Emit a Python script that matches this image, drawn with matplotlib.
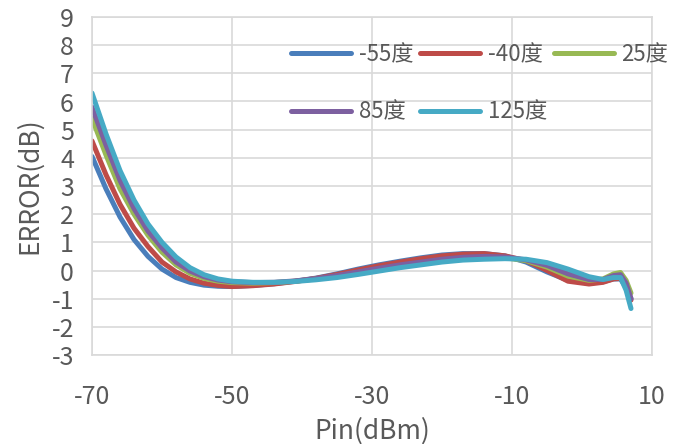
import matplotlib
matplotlib.use('Agg')
import matplotlib.pyplot as plt

plt.rcParams['font.family'] = ['Noto Sans CJK SC', 'DejaVu Sans']
plt.rcParams['axes.unicode_minus'] = False

pin = [-70, -68, -66, -64, -62, -60, -58, -56, -54, -52, -50, -47, -44, -41, -38, -35,
       -32, -29, -26, -23, -20, -17, -14, -11, -8, -5, -2, 1, 3, 4.5, 5.5, 6.3, 7]

err_m55 = [4.05, 2.9, 1.9, 1.1, 0.5, 0.05, -0.25, -0.42, -0.52, -0.56, -0.57, -0.53, -0.47,
           -0.38, -0.27, -0.12, 0.05, 0.2, 0.33, 0.45, 0.55, 0.6, 0.6, 0.52, 0.3, -0.05,
           -0.35, -0.45, -0.4, -0.3, -0.3, -0.6, -1.0]
err_m40 = [4.6, 3.4, 2.35, 1.5, 0.85, 0.3, -0.05, -0.3, -0.45, -0.53, -0.57, -0.54, -0.48,
           -0.39, -0.28, -0.14, 0.02, 0.17, 0.3, 0.42, 0.52, 0.58, 0.6, 0.52, 0.35, 0.0,
           -0.38, -0.48, -0.42, -0.3, -0.28, -0.55, -1.05]
err_25 = [5.4, 4.1, 2.9, 2.0, 1.25, 0.65, 0.2, -0.1, -0.28, -0.38, -0.43, -0.45, -0.43,
          -0.38, -0.3, -0.2, -0.07, 0.05, 0.17, 0.27, 0.35, 0.42, 0.45, 0.45, 0.35, 0.12,
          -0.2, -0.35, -0.3, -0.12, -0.07, -0.35, -0.8]
err_85 = [5.8, 4.45, 3.2, 2.2, 1.4, 0.8, 0.3, -0.02, -0.22, -0.34, -0.4, -0.43, -0.42,
          -0.37, -0.29, -0.18, -0.05, 0.08, 0.2, 0.3, 0.4, 0.47, 0.5, 0.48, 0.38, 0.18,
          -0.12, -0.32, -0.32, -0.18, -0.15, -0.45, -1.0]
err_125 = [6.3, 4.85, 3.55, 2.5, 1.65, 1.0, 0.48, 0.1, -0.15, -0.3, -0.38, -0.42, -0.42,
           -0.39, -0.33, -0.25, -0.14, -0.02, 0.1, 0.2, 0.3, 0.37, 0.4, 0.42, 0.4, 0.28,
           0.05, -0.22, -0.32, -0.25, -0.25, -0.7, -1.35]

labels = ['-55度', '-40度', '25度', '85度', '125度']
colors = ['#4A7EBB', '#BE4B48', '#98B954', '#7D60A0', '#46AAC5']

fig = plt.figure(figsize=(6.98, 4.44), dpi=100)
ax = fig.add_axes([92 / 698, 1 - 355 / 444, 560 / 698, 338 / 444])

lines = []
for ys, lab, c in zip([err_m55, err_m40, err_25, err_85, err_125], labels, colors):
    ln, = ax.plot(pin, ys, color=c, lw=3.6, label=lab, solid_capstyle='round')
    lines.append(ln)

ax.set_xlim(-70, 10)
ax.set_ylim(-3, 9)
ax.set_xticks([-70, -50, -30, -10, 10])
ax.set_yticks(range(-3, 10))
ax.grid(True, color='#D9D9D9', lw=1.2)
ax.set_axisbelow(True)
for s in ax.spines.values():
    s.set_color('#D9D9D9')
    s.set_linewidth(1.2)
ax.tick_params(length=0, labelsize=18, labelcolor='#595959')
ax.tick_params(axis='x', pad=21)
ax.tick_params(axis='y', pad=13)

ax.set_xlabel('Pin(dBm)', fontsize=19, color='#595959', labelpad=5)
ax.set_ylabel('ERROR(dB)', fontsize=19, color='#595959', labelpad=6)

# legend fills column by column, reorder so rows read -55,-40,25 / 85,125
order = [0, 3, 1, 4, 2]
ax.legend([lines[i] for i in order], [labels[i] for i in order],
          ncol=3, loc='upper left', bbox_to_anchor=(282 / 698, 1 - 34 / 444),
          bbox_transform=fig.transFigure, frameon=False, fontsize=16,
          labelcolor='#595959', handlelength=2.7, handletextpad=0.35,
          columnspacing=0.3, labelspacing=1.55, borderaxespad=0)

fig.savefig('out.png', dpi=100)
